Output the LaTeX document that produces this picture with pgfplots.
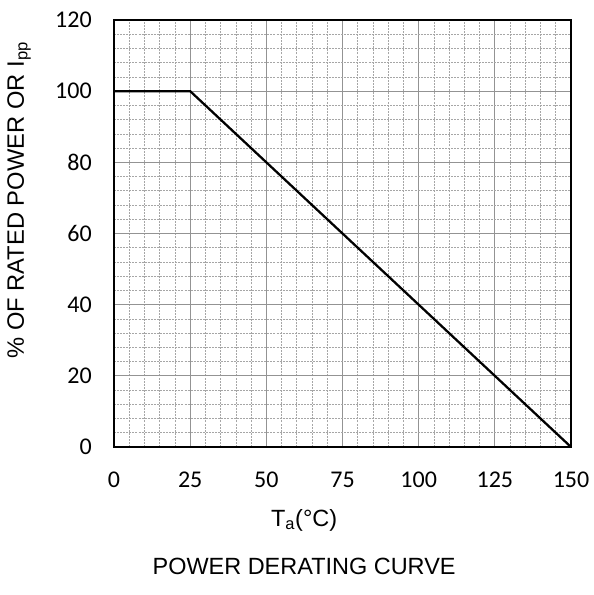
\documentclass[border=0pt]{standalone}
\usepackage{fontspec}
\setmainfont{Liberation Sans}
\newfontfamily\calibri{Carlito}
\usepackage{pgfplots}
\pgfplotsset{compat=1.18}

\begin{document}
\begin{tikzpicture}
	% full canvas of the reference (1px = 0.75pt), axis SW corner at origin
	\path (-85.5pt,335.25pt) rectangle (359.25pt,-111pt);
	\begin{axis}[
			at={(0,0)}, anchor=south west,
			scale only axis,
			width=342.75pt, height=320.25pt,
			xmin=0, xmax=150, ymin=0, ymax=120,
			xtick={0,25,...,150}, ytick={0,20,...,120},
			minor x tick num=4, minor y tick num=4,
			grid=both,
			major grid style={gray!85, line width=0.7pt},
			minor grid style={gray!70, dash pattern=on 1.5pt off 0.8pt, line width=0.5pt},
			major tick length=0pt, minor tick length=0pt,
			axis line style={black, line width=0.9pt},
			/pgf/number format/assume math mode=true,
			ticklabel style={font=\calibri\fontsize{18}{21}\selectfont, inner sep=0pt},
			xticklabel style={anchor=north, yshift=-18.75pt},
			yticklabel style={anchor=east, xshift=-16.5pt},
			xlabel={T\textsubscript{a}(°C)\\[15pt]POWER DERATING CURVE},
			xlabel style={at={(axis description cs:0.416,0)}, anchor=north, yshift=-46.5pt,
					align=center, inner sep=0pt, font=\fontsize{17.6}{21}\selectfont},
			ylabel={\% OF RATED POWER OR I\textsubscript{pp}},
			ylabel style={at={(axis description cs:-0.2079,0.578)}, anchor=center, rotate=0,
					inner sep=0pt, font=\fontsize{17.8}{21}\selectfont},
		]
		\addplot[black, line width=1.7pt] coordinates {(0,100) (25,100) (150,0)};
	\end{axis}
\end{tikzpicture}
\end{document}
